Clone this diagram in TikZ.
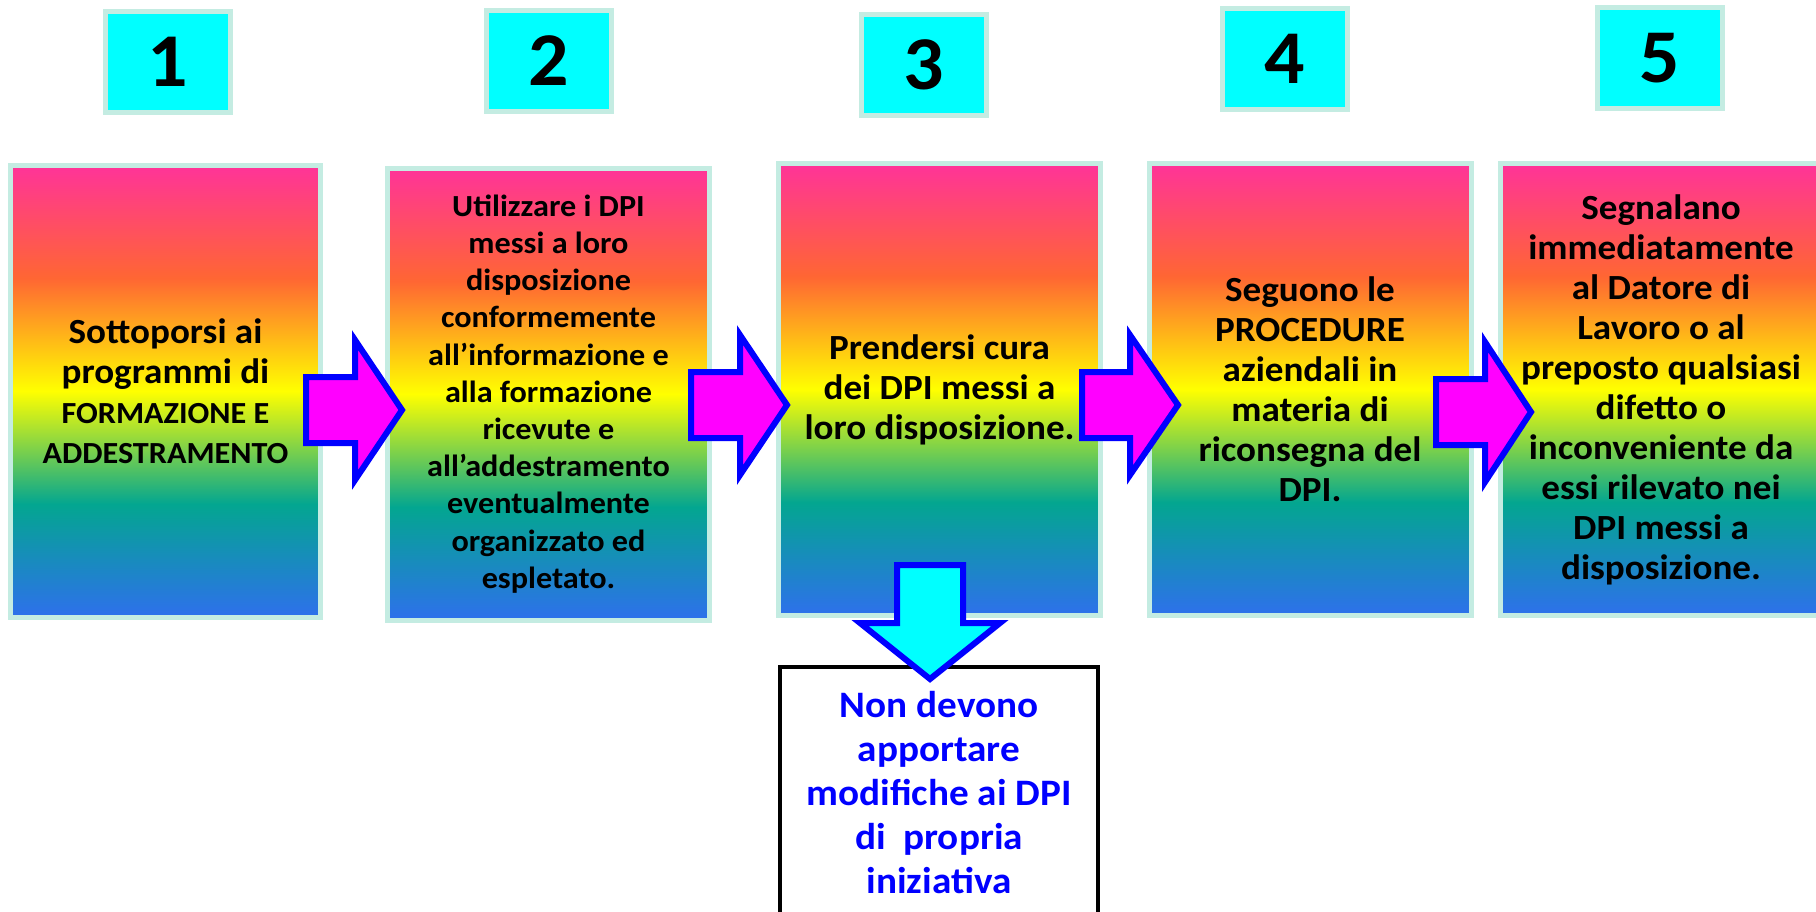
\documentclass[tikz,border=0pt]{standalone}
\usepackage{fontspec}
\setmainfont{Carlito}[FakeStretch=1.05]

\definecolor{rbPink}{RGB}{255,51,153}
\definecolor{rbOrange}{RGB}{255,102,51}
\definecolor{rbYellow}{RGB}{255,255,0}
\definecolor{rbTeal}{RGB}{3,166,144}
\definecolor{rbBlue}{RGB}{46,112,236}
\definecolor{edgeTeal}{RGB}{196,236,226}
\definecolor{numCyan}{RGB}{0,255,255}
\definecolor{arrowPink}{RGB}{255,0,255}
\definecolor{arrowBlue}{RGB}{0,0,255}

\pgfdeclareverticalshading{rainbow}{100bp}{color(0bp)=(rbBlue); color(25bp)=(rbBlue); color(37.5bp)=(rbTeal); color(50bp)=(rbYellow); color(62.5bp)=(rbOrange); color(75bp)=(rbPink); color(100bp)=(rbPink)}

\newcommand{\capsline}{\fontsize{23pt}{27pt}\selectfont}

\tikzset{every picture/.style={line width=0.75pt},
  numbox/.style={draw=edgeTeal, line width=3.75pt, fill=numCyan, minimum width=93.75pt, minimum height=75.75pt, inner sep=0pt, font=\fontsize{57pt}{60pt}\selectfont\bfseries},
  stepbox/.style={draw=edgeTeal, line width=3.75pt, shade, shading=rainbow, minimum width=241.5pt, minimum height=339pt, inner sep=0pt, align=center, font=\fontsize{26.5pt}{30pt}\selectfont\bfseries},
  notebox/.style={draw=black, line width=3pt, fill=white, minimum width=238.5pt, minimum height=189pt, inner sep=0pt, align=center, text=arrowBlue, font=\fontsize{28pt}{33pt}\selectfont\bfseries},
  rarrow/.style={draw=arrowBlue, fill=arrowPink, line width=4.5pt, line join=miter},
  darrow/.style={draw=arrowBlue, fill=numCyan, line width=4.5pt, line join=miter}
}

\begin{document}
\begin{tikzpicture}[x=0.75pt,y=0.75pt,yscale=-1,xscale=1]
        \useasboundingbox (0,0) rectangle (1816,911);
        \clip (0,0) rectangle (1816,911);

        % Numbers
        \node [numbox] (num1) at (168,62) {1};
        \node [numbox] (num2) at (549,60.5) {2};
        \node [numbox] (num3) at (923.5,64.5) {3};
        \node [numbox] (num4) at (1285,59) {4};
        \node [numbox] (num5) at (1660,58) {5};

        % Steps
        \node [stepbox, minimum width=232.5pt] (step1) at (165.5,391) {Sottoporsi ai\\programmi di\\\capsline FORMAZIONE E\\\capsline ADDESTRAMENTO};
        \node [stepbox, font=\fontsize{23pt}{27.9pt}\selectfont\bfseries] (step2) at (548.5,394) {Utilizzare i DPI\\messi a loro\\disposizione\\conformemente\\all’informazione e\\alla formazione\\ricevute e\\all’addestramento\\eventualmente\\organizzato ed\\espletato.};
        \node [stepbox] (step3) at (939.5,389.5) {Prendersi cura\\dei DPI messi a\\loro disposizione.};
        \node [stepbox] (step4) at (1310,389.5) {Seguono le\\PROCEDURE\\aziendali in\\materia di\\riconsegna del\\DPI.};
        \node [stepbox] (step5) at (1661,389.5) {Segnalano\\immediatamente\\al Datore di\\Lavoro o al\\preposto qualsiasi\\difetto o\\inconveniente da\\essi rilevato nei\\DPI messi a\\disposizione.};

        % Note under step 3
        \node [notebox] (note) at (939,793) {Non devono\\apportare\\modifiche ai DPI\\di~ propria\\iniziativa};

        % Arrows
        \draw [rarrow] (306,377) -- (355,377) -- (355,340) -- (402,410) -- (355,480) -- (355,443) -- (306,443) -- cycle;
        \draw [rarrow] (691,372) -- (740,372) -- (740,335) -- (787,405) -- (740,475) -- (740,438) -- (691,438) -- cycle;
        \draw [rarrow] (1082,372) -- (1130,372) -- (1130,335) -- (1178,405) -- (1130,475) -- (1130,438) -- (1082,438) -- cycle;
        \draw [rarrow] (1436,379) -- (1485,379) -- (1485,342) -- (1531,412) -- (1485,482) -- (1485,445) -- (1436,445) -- cycle;
        \draw [darrow] (897,565) -- (963,565) -- (963,623) -- (1000,623) -- (930,679) -- (860,623) -- (897,623) -- cycle;

\end{tikzpicture}
\end{document}
